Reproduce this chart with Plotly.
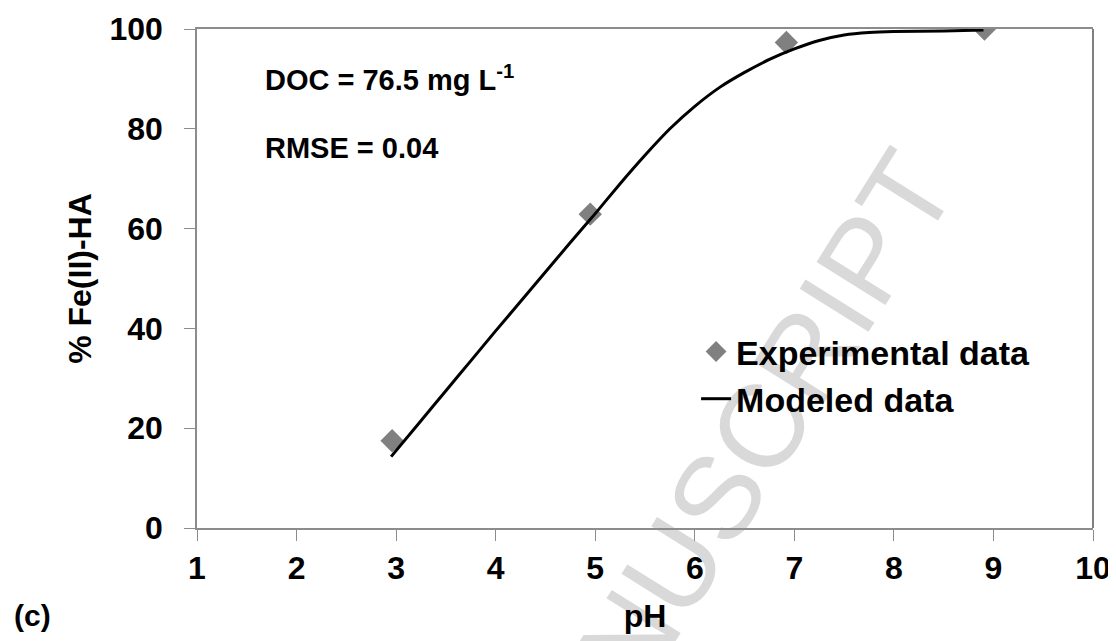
import plotly.graph_objects as go

# experimental points
exp_ph = [2.96, 4.95, 6.92, 8.91]
exp_fe = [17.5, 62.9, 97.3, 100.0]

# model curve
model_ph = [2.95, 3.25, 3.5, 3.75, 4.0, 4.25, 4.5, 4.75, 5.0, 5.25, 5.5, 5.75,
            6.0, 6.25, 6.5, 6.75, 7.0, 7.25, 7.5, 7.75, 8.0, 8.5, 8.9]
model_fe = [14.3, 21.5, 27.5, 33.5, 39.5, 45.4, 51.3, 57.2, 63.0, 69.0, 74.7, 80.0,
            84.5, 88.3, 91.3, 93.9, 96.0, 97.7, 98.8, 99.3, 99.5, 99.6, 99.8]

x_ticks = [1, 2, 3, 4, 5, 6, 7, 8, 9, 10]
y_ticks = [0, 20, 40, 60, 80, 100]

font = "Liberation Sans, Arial, sans-serif"
axis_gray = "#8c8c8c"

fig = go.Figure()
fig.add_trace(go.Scatter(x=exp_ph, y=exp_fe, mode="markers", name="Experimental data",
                         marker=dict(symbol="diamond", size=18, color="#808080")))
fig.add_trace(go.Scatter(x=model_ph, y=model_fe, mode="lines", name="Modeled data",
                         line=dict(color="black", width=3, shape="spline", smoothing=0.5)))

fig.update_xaxes(range=[1, 10], tickvals=x_ticks, ticks="outside", ticklen=11, tickcolor=axis_gray,
                 showline=True, linecolor=axis_gray, linewidth=1.5, mirror=True, showgrid=False,
                 zeroline=False, automargin=False, ticklabelstandoff=0,
                 tickfont=dict(family=font, size=32, color="black", weight="bold"),
                 title=dict(text="pH", standoff=19,
                            font=dict(family=font, size=32, color="black", weight="bold")))
fig.update_yaxes(range=[0, 100], tickvals=y_ticks, ticks="outside", ticklen=11, tickcolor=axis_gray,
                 showline=True, linecolor=axis_gray, linewidth=1.5, mirror=False, showgrid=False,
                 zeroline=False, automargin=False, ticklabelstandoff=15,
                 tickfont=dict(family=font, size=32, color="black", weight="bold"),
                 title=dict(text="% Fe(II)-HA", standoff=8,
                            font=dict(family=font, size=32, color="black", weight="bold")))

# darker right-hand border of the plot box
fig.add_shape(type="line", xref="paper", yref="paper", x0=1, x1=1, y0=0, y1=1,
              line=dict(color="#555555", width=1.5))

fig.add_annotation(text="DOC = 76.5 mg L<sup>-1</sup>", xref="paper", yref="paper",
                   x=0.0737, y=0.901, xanchor="left", yanchor="middle", showarrow=False,
                   font=dict(family=font, size=29, color="black", weight="bold"))
fig.add_annotation(text="RMSE = 0.04", xref="paper", yref="paper",
                   x=0.0737, y=0.7615, xanchor="left", yanchor="middle", showarrow=False,
                   font=dict(family=font, size=29, color="black", weight="bold"))
fig.add_annotation(text="(c)", xref="paper", yref="paper",
                   x=-0.184, y=-0.176, xanchor="center", yanchor="middle", showarrow=False,
                   font=dict(family=font, size=30, color="black", weight="bold"))

# faint diagonal watermark behind everything
fig.add_shape(type="rect", xref="paper", yref="paper", x0=0.362, x1=0.382, y0=-0.505, y1=-0.485,
              line=dict(width=0), fillcolor="rgba(0,0,0,0)", layer="below",
              label=dict(text="ACCEPTED MANUSCRIPT", textangle=-58, textposition="middle center",
                         font=dict(family=font, size=118, color="#d9d9d9")))

# the page puts the plot 8 px in from the top-left corner, so the figure is 8 px smaller
fig.update_layout(width=1108, height=633, margin=dict(l=189, r=23, t=21, b=113),
                  paper_bgcolor="white", plot_bgcolor="rgba(0,0,0,0)",
                  legend=dict(x=0.557, y=0.411, xanchor="left", yanchor="top",
                              bgcolor="rgba(0,0,0,0)", tracegroupgap=0,
                              font=dict(family=font, size=34, color="black", weight="bold")))

fig.write_html("out.html")
